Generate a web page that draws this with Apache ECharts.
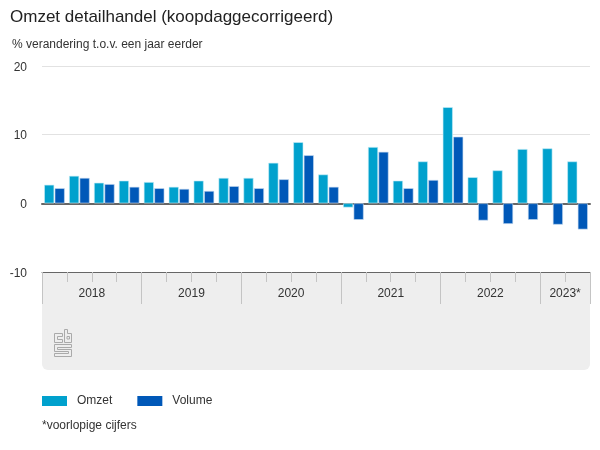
<!DOCTYPE html>
<html>
<head>
<meta charset="utf-8">
<style>
html, body { margin: 0; padding: 0; background: #fff; }
#chart { width: 600px; height: 450px; }
</style>
<script src="https://cdn.jsdelivr.net/npm/echarts@6/dist/echarts.min.js"></script>
</head>
<body>
<div id="chart"></div>
<script>
const quarters = ['2018Q1','2018Q2','2018Q3','2018Q4','2019Q1','2019Q2','2019Q3','2019Q4','2020Q1','2020Q2','2020Q3','2020Q4','2021Q1','2021Q2','2021Q3','2021Q4','2022Q1','2022Q2','2022Q3','2022Q4','2023Q1','2023Q2'];
const omzet = [2.7,4.0,3.0,3.3,3.1,2.4,3.3,3.7,3.7,5.9,8.9,4.2,-0.6,8.2,3.3,6.1,14.0,3.8,4.8,7.9,8.0,6.1];
const volume = [2.2,3.7,2.8,2.4,2.2,2.1,1.8,2.5,2.2,3.5,7.0,2.4,-2.4,7.5,2.2,3.4,9.7,-2.5,-3.0,-2.4,-3.1,-3.8];
const yearLabels = ['2018','2019','2020','2021','2022','2023*'];
const yearCenters = [2,6,10,14,18,21];
const yearEdges = [0,4,8,12,16,20,22];
const quarterEdges = [1,2,3,5,6,7,9,10,11,13,14,15,17,18,19,21];

const textColor = '#333';
const logoColor = '#aaaaaa';

// cbs logo, outline only
const logoShape = (points) => ({
    type: 'polygon',
    z: 5,
    shape: { points: points },
    style: { fill: 'none', stroke: logoColor, lineWidth: 1 }
});

var myChart = echarts.init(document.getElementById('chart'), null, { renderer: 'canvas' });

myChart.setOption({
    animation: false,
    backgroundColor: '#fff',
    textStyle: { fontFamily: '"Liberation Sans", Arial, sans-serif' },
    title: [
        { text: 'Omzet detailhandel (koopdaggecorrigeerd)', left: 10, top: 9, padding: 0, textStyle: { fontSize: 17, fontWeight: 'normal', color: '#222' } },
        { text: '% verandering t.o.v. een jaar eerder', left: 12, top: 39, padding: 0, textStyle: { fontSize: 12, fontWeight: 'normal', color: textColor } },
        { text: '*voorlopige cijfers', left: 42, top: 420, padding: 0, textStyle: { fontSize: 12, fontWeight: 'normal', color: textColor } }
    ],
    legend: {
        left: 42,
        top: 395,
        padding: 0,
        itemWidth: 25,
        itemHeight: 10,
        itemGap: 25,
        icon: 'rect',
        selectedMode: false,
        itemStyle: { borderWidth: 0 },
        textStyle: { fontSize: 12, color: textColor, padding: [0, 0, 0, 5] },
        data: ['Omzet', 'Volume']
    },
    grid: { left: 42, right: 10, top: 66, bottom: 178 },
    graphic: [
        { type: 'rect', z: -1, shape: { x: 42, y: 272, width: 548, height: 98, r: [0, 0, 6, 6] }, style: { fill: '#eeeeee' } },
        logoShape([[54.5,333.5],[62.5,333.5],[62.5,336.5],[57.5,336.5],[57.5,339.5],[62.5,339.5],[62.5,342.5],[54.5,342.5]]),
        logoShape([[64.5,329.5],[67.5,329.5],[67.5,333.5],[71.5,333.5],[71.5,342.5],[64.5,342.5]]),
        logoShape([[67,336.5],[69.5,336.5],[69.5,339],[67,339]]),
        logoShape([[54.5,344.5],[71.5,344.5],[71.5,347.5],[57.5,347.5],[57.5,349.5],[71.5,349.5],[71.5,356.5],[54.5,356.5],[54.5,353.5],[68.5,353.5],[68.5,351.5],[54.5,351.5]])
    ],
    xAxis: [
        {
            type: 'category',
            data: quarters,
            axisLine: { onZero: true, lineStyle: { color: '#666', width: 2 } },
            axisTick: { show: false },
            axisLabel: { show: false }
        },
        {
            // quarter ticks
            type: 'value',
            position: 'bottom',
            min: 0,
            max: 22,
            splitLine: { show: false },
            axisLine: { show: false, onZero: false, lineStyle: { color: '#c4c4c4' } },
            axisTick: { show: true, length: 10, customValues: quarterEdges, lineStyle: { color: '#c4c4c4', width: 1 } },
            axisLabel: { show: false }
        },
        {
            // year bands
            type: 'value',
            position: 'bottom',
            min: 0,
            max: 22,
            splitLine: { show: false },
            axisLine: { show: true, onZero: false, lineStyle: { color: '#666', width: 1 } },
            axisTick: { show: true, length: 32, customValues: yearEdges, lineStyle: { color: '#c4c4c4', width: 1 } },
            axisLabel: {
                show: true,
                margin: 16,
                fontSize: 12,
                color: textColor,
                customValues: yearCenters,
                formatter: (v) => yearLabels[yearCenters.indexOf(v)]
            }
        }
    ],
    yAxis: {
        type: 'value',
        min: -10,
        max: 20,
        interval: 10,
        axisLine: { show: false },
        axisTick: { show: false },
        axisLabel: { fontSize: 12, color: textColor, margin: 15, verticalAlign: 'top', lineHeight: 3 },
        splitLine: { lineStyle: { color: '#e2e2e2', width: 1 } }
    },
    series: [
        {
            name: 'Omzet',
            type: 'bar',
            data: omzet,
            barWidth: 10,
            barGap: '5%',
            itemStyle: { color: '#00a1cd', borderColor: '#c4ecf6', borderWidth: 0.6 }
        },
        {
            name: 'Volume',
            type: 'bar',
            data: volume,
            barWidth: 10,
            itemStyle: { color: '#0058b8', borderColor: '#c6daf0', borderWidth: 0.6 }
        }
    ]
});
</script>
</body>
</html>
